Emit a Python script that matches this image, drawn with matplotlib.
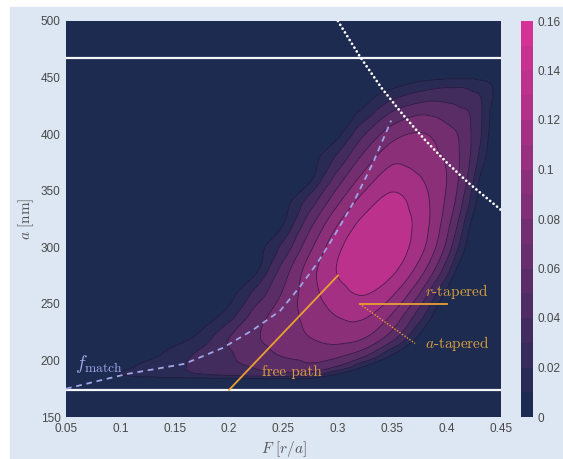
import numpy as np
import matplotlib
matplotlib.use("Agg")
import matplotlib.pyplot as plt
import matplotlib.tri as mtri
from matplotlib.colors import ListedColormap, Normalize, to_rgb
from matplotlib.patches import Rectangle
import matplotlib.cm as cm

plt.rcParams['mathtext.fontset'] = 'cm'

# ---------------- data ----------------
F_grid = [0.05, 0.075, 0.10, 0.125, 0.15, 0.175, 0.20, 0.225, 0.25, 0.275, 0.30,
          0.325, 0.35, 0.375, 0.39, 0.40, 0.41, 0.42, 0.43, 0.44, 0.45]
a_grid = [150, 183, 188, 195, 205, 220, 240, 260, 280, 300, 320, 340, 360, 380,
          400, 420, 435, 445, 452, 500]
density = [
    [0] * 21,
    [0] * 21,
    [0, 0, 0.0054, 0.0103, 0.0151, 0.020, 0.0256, 0.0308, 0.035, 0.032, 0.005, 0, 0, 0, 0, 0, 0, 0, 0, 0, 0],
    [0, 0, 0, 0.0096, 0.0165, 0.0246, 0.0342, 0.0427, 0.0495, 0.055, 0.040, 0.005, 0, 0, 0, 0, 0, 0, 0, 0, 0],
    [0, 0, 0, 0, 0.0117, 0.025, 0.0375, 0.0514, 0.062, 0.067, 0.065, 0.045, 0.005, 0, 0, 0, 0, 0, 0, 0, 0],
    [0, 0, 0, 0, 0, 0.010, 0.040, 0.0579, 0.0694, 0.080, 0.0867, 0.080, 0.0483, 0.002, 0, 0, 0, 0, 0, 0, 0],
    [0, 0, 0, 0, 0, 0, 0.0117, 0.050, 0.070, 0.0867, 0.101, 0.103, 0.078, 0.030, 0.001, 0, 0, 0, 0, 0, 0],
    [0, 0, 0, 0, 0, 0, 0, 0.026, 0.0621, 0.0923, 0.1133, 0.1217, 0.1042, 0.062, 0.0229, 0.002, 0, 0, 0, 0, 0],
    [0, 0, 0, 0, 0, 0, 0, 0.0025, 0.0491, 0.0917, 0.1213, 0.1317, 0.1244, 0.0909, 0.0571, 0.0286, 0.003, 0, 0, 0, 0],
    [0, 0, 0, 0, 0, 0, 0, 0, 0.0267, 0.0764, 0.1157, 0.1333, 0.1313, 0.1083, 0.080, 0.0543, 0.0225, 0.001, 0, 0, 0],
    [0, 0, 0, 0, 0, 0, 0, 0, 0.005, 0.056, 0.100, 0.1272, 0.132, 0.1129, 0.0891, 0.0675, 0.040, 0.008, 0, 0, 0],
    [0, 0, 0, 0, 0, 0, 0, 0, 0, 0.0311, 0.0767, 0.1106, 0.126, 0.110, 0.0923, 0.076, 0.0543, 0.0233, 0.001, 0, 0],
    [0, 0, 0, 0, 0, 0, 0, 0, 0, 0.0033, 0.0509, 0.0893, 0.111, 0.1019, 0.090, 0.080, 0.0618, 0.0367, 0.005, 0, 0],
    [0, 0, 0, 0, 0, 0, 0, 0, 0, 0, 0.024, 0.0667, 0.0935, 0.0896, 0.0833, 0.0771, 0.0629, 0.044, 0.0175, 0, 0],
    [0, 0, 0, 0, 0, 0, 0, 0, 0, 0, 0.0017, 0.040, 0.0718, 0.0815, 0.076, 0.068, 0.060, 0.0446, 0.0244, 0.003, 0],
    [0, 0, 0, 0, 0, 0, 0, 0, 0, 0, 0, 0.0091, 0.040, 0.055, 0.0535, 0.049, 0.0445, 0.040, 0.0246, 0.005, 0],
    [0, 0, 0, 0, 0, 0, 0, 0, 0, 0, 0, 0, 0.0125, 0.025, 0.030, 0.030, 0.030, 0.025, 0.020, 0.0075, 0],
    [0, 0, 0, 0, 0, 0, 0, 0, 0, 0, 0, 0, 0, 0.0073, 0.0107, 0.013, 0.013, 0.013, 0.009, 0.005, 0],
    [0] * 21,
    [0] * 21,
]

fill_levels = [0, 0.005, 0.02, 0.04, 0.06, 0.08, 0.10, 0.12, 0.145]
line_levels = [0.005, 0.02, 0.04, 0.06, 0.08, 0.10, 0.12]

bound_a = [174, 467]

radius_F = [0.30, 0.32, 0.34, 0.36, 0.38, 0.40, 0.42, 0.44, 0.45]
radius_a = [500, 469, 441, 417, 395, 375, 357, 341, 333]

match_F = [0.05, 0.08, 0.106, 0.159, 0.194, 0.222, 0.247, 0.265, 0.281, 0.296, 0.314, 0.332, 0.349]
match_a = [175, 182, 188, 197, 211, 227, 244, 265, 286, 309, 339, 374, 412]

free_path_F = [0.20, 0.30]
free_path_a = [174, 275]
r_taper_F = [0.32, 0.40]
r_taper_a = [250, 250]
a_taper_F = [0.32, 0.371]
a_taper_a = [250, 215]

x_ticks = [0.05, 0.1, 0.15, 0.2, 0.25, 0.3, 0.35, 0.4, 0.45]
x_ticklabels = ['0.05', '0.1', '0.15', '0.2', '0.25', '0.3', '0.35', '0.4', '0.45']
y_ticks = [150, 200, 250, 300, 350, 400, 450, 500]
y_ticklabels = ['150', '200', '250', '300', '350', '400', '450', '500']
cb_ticks = [0, 0.02, 0.04, 0.06, 0.08, 0.10, 0.12, 0.14, 0.16]
cb_ticklabels = ['0', '0.02', '0.04', '0.06', '0.08', '0.1', '0.12', '0.14', '0.16']

# ---------------- style ----------------
navy = np.array(to_rgb('#1e2b50'))
magenta = np.array(to_rgb('#d43294'))
cmap = ListedColormap([navy + (magenta - navy) * i / 15 for i in range(16)])
norm = Normalize(vmin=0, vmax=0.16)
bg = '#dce7f3'
tick_col = '#484848'
orange = '#e8a030'
orange_txt = '#d8a040'
lavender = '#a0a4e6'

fig = plt.figure(figsize=(5.63, 4.59), dpi=100, facecolor='white')
fig.patches.append(Rectangle((10 / 563, 0), 1 - 10 / 563, 1 - 7 / 459,
                             transform=fig.transFigure, color=bg, zorder=-10))

ax = fig.add_axes([66 / 563, 1 - 417 / 459, 435 / 563, 396 / 459])
ax.set_facecolor(navy)

# grid -> triangulation (F scaled so both axes have similar pixel size),
# smoothed by matplotlib's own cubic refiner
SCALE = 1000.0
FF, AA = np.meshgrid(F_grid, a_grid)
nr, nc = FF.shape
tris = []
for i in range(nr - 1):
    for j in range(nc - 1):
        p = i * nc + j
        tris.append([p, p + 1, p + nc + 1])
        tris.append([p, p + nc + 1, p + nc])
Z = np.array(density, dtype=float).ravel()
tri_s = mtri.Triangulation(FF.ravel() * SCALE, AA.ravel(), np.array(tris))
interp = mtri.CubicTriInterpolator(tri_s, Z, kind='geom')
refiner = mtri.UniformTriRefiner(tri_s)
tri_r, z_r = refiner.refine_field(Z, triinterpolator=interp, subdiv=3)
tri_plot = mtri.Triangulation(tri_r.x / SCALE, tri_r.y, tri_r.triangles)

ax.tricontourf(tri_plot, z_r, levels=fill_levels, cmap=cmap, norm=norm)
ax.tricontour(tri_plot, z_r, levels=line_levels, colors='#1a1636',
              linewidths=0.6, alpha=0.75)

for av in bound_a:
    ax.axhline(av, color='#f4f6fa', lw=1.6, zorder=3)

ax.plot(radius_F, radius_a, color='white', lw=2.0, linestyle=(0, (0.01, 1.6)),
        dash_capstyle='round', zorder=4)
ax.plot(match_F, match_a, color=lavender, lw=1.3, linestyle=(0, (3.2, 2.6)), zorder=4)
ax.plot(free_path_F, free_path_a, color=orange, lw=1.3, zorder=4)
ax.plot(r_taper_F, r_taper_a, color=orange, lw=1.3, zorder=4)
ax.plot(a_taper_F, a_taper_a, color=orange, lw=1.0, linestyle=(0, (1, 1.2)), zorder=4)

ax.text(0.058, 197, r'$f_{\mathrm{match}}$', color=lavender, fontsize=14,
        ha='left', va='center', zorder=5)
ax.text(0.258, 190, 'free path', color=orange_txt, fontsize=11, family='cmr10',
        ha='center', va='center', zorder=5)
ax.text(0.409, 261, r'$r$-tapered', color=orange_txt, fontsize=11, family='cmr10',
        ha='center', va='center', zorder=5)
ax.text(0.41, 215, r'$a$-tapered', color=orange_txt, fontsize=11, family='cmr10',
        ha='center', va='center', zorder=5)

ax.set_xlim(0.05, 0.45)
ax.set_ylim(150, 500)
ax.set_xticks(x_ticks)
ax.set_xticklabels(x_ticklabels)
ax.set_yticks(y_ticks)
ax.set_yticklabels(y_ticklabels)
ax.tick_params(length=0, pad=4, labelsize=8.5, labelcolor=tick_col)
for lab in ax.get_xticklabels() + ax.get_yticklabels():
    lab.set_family('Liberation Sans')
for sp in ax.spines.values():
    sp.set_visible(False)

ax.set_xlabel(r'$F\ [r/a]$', fontsize=11, color='#555555')
ax.set_ylabel(r'$a\ [\mathrm{nm}]$', fontsize=11, color='#555555')
ax.xaxis.set_label_coords(0.5, -0.056)
ax.yaxis.set_label_coords(-0.07, 0.5)

cax = fig.add_axes([521 / 563, 1 - 417 / 459, 12 / 563, 396 / 459])
sm = cm.ScalarMappable(norm=norm, cmap=cmap)
cb = fig.colorbar(sm, cax=cax, ticks=cb_ticks)
cb.set_ticklabels(cb_ticklabels)
cb.outline.set_visible(False)
cax.tick_params(length=0, pad=3, labelsize=8.5, labelcolor=tick_col)
for lab in cax.get_yticklabels():
    lab.set_family('Liberation Sans')

fig.savefig('out.png', dpi=100, facecolor=fig.get_facecolor())
